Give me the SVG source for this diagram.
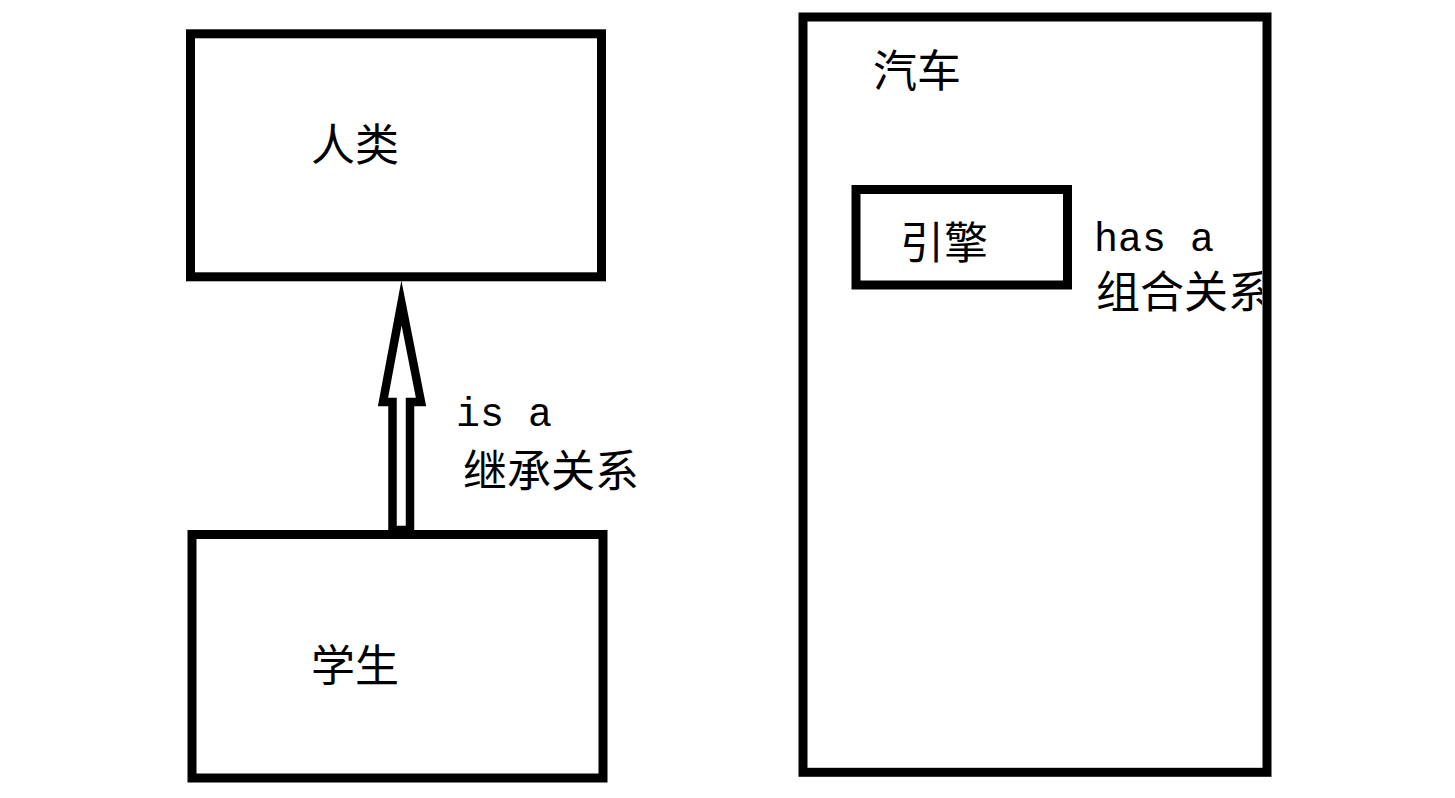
<svg xmlns="http://www.w3.org/2000/svg" width="1455" height="798" viewBox="0 0 1455 798">
  <style>
    .box { fill: none; stroke: #000; stroke-width: 9; }
    .cjk { font-family: "Noto Sans CJK SC", "Noto Sans", sans-serif; font-size: 44px; fill: #000; }
    .lat { font-family: "Liberation Mono", "DejaVu Sans Mono", monospace; font-size: 40px; fill: #000; }
  </style>
  <defs>
    <clipPath id="carClip">
      <rect x="0" y="0" width="1262" height="798"/>
    </clipPath>
  </defs>
  <rect width="1455" height="798" fill="#fff"/>

  <g id="connectors">
    <polygon points="401.5,303 421,402 410,402 410,530 392.5,530 392.5,402 383,402" fill="#fff" stroke="#000" stroke-width="8.5" stroke-linejoin="miter" stroke-miterlimit="10"/>
  </g>

  <g id="node-human">
    <rect class="box" x="190.5" y="33.8" width="411" height="243" fill="#fff"/>
    <text class="cjk" x="311" y="161">人类</text>
  </g>

  <g id="node-student">
    <rect class="box" x="192" y="534.5" width="411" height="243.5"/>
    <text class="cjk" x="311" y="682">学生</text>
  </g>

  <g id="label-isa">
    <text class="lat" x="456" y="426">is a</text>
    <text class="cjk" x="463" y="487">继承关系</text>
  </g>

  <g id="label-hasa">
    <text class="lat" x="1094" y="251">has a</text>
    <text class="cjk" x="1096" y="308" clip-path="url(#carClip)">组合关系</text>
  </g>

  <g id="node-car">
    <rect class="box" x="803" y="17" width="464" height="755.3"/>
    <text class="cjk" x="873" y="87">汽车</text>
  </g>

  <g id="node-engine">
    <rect class="box" x="856" y="189.5" width="211.5" height="95.5"/>
    <text class="cjk" x="900" y="259">引擎</text>
  </g>
</svg>
